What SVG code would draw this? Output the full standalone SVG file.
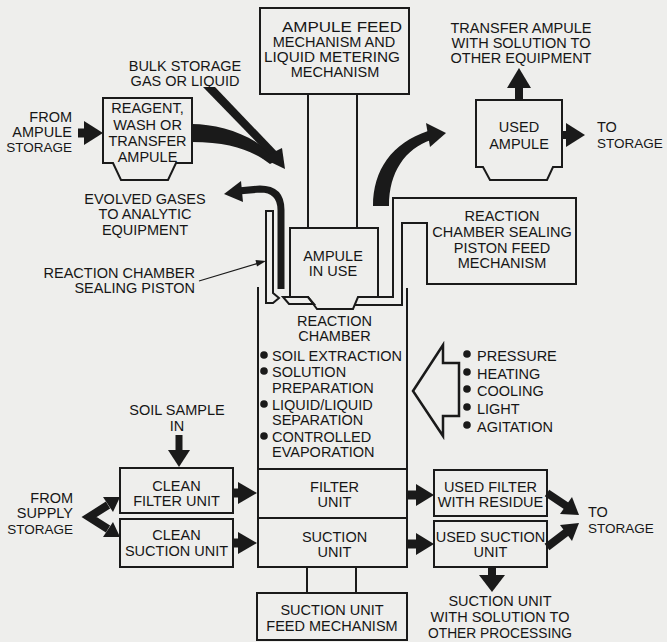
<svg xmlns="http://www.w3.org/2000/svg" width="667" height="642" viewBox="0 0 667 642">
<style>
.bx{fill:none;stroke:#1a1a1a;stroke-width:2}
.ln{fill:none;stroke:#1a1a1a;stroke-width:2}
.t{font-family:"Liberation Sans",Arial,sans-serif;font-size:14.5px;fill:#161616;text-anchor:middle}
.e{text-anchor:end}
.s{text-anchor:start}
.n{font-size:13.5px}
.k{fill:#1a1a1a;stroke:none}
.sh{fill:none;stroke:#1a1a1a;stroke-linecap:butt}
</style>
<rect width="667" height="642" fill="#eeeeec"/>

<g id="feed-mechanism">
<rect class="bx" x="260" y="8" width="149" height="86"/>
<text class="t" x="342" y="32" textLength="120" lengthAdjust="spacingAndGlyphs">AMPULE FEED</text>
<text class="t" x="334" y="47">MECHANISM AND</text>
<text class="t" x="332" y="62" textLength="136" lengthAdjust="spacingAndGlyphs">LIQUID METERING</text>
<text class="t" x="335" y="77">MECHANISM</text>
</g>

<g id="reagent-ampule">
<polygon class="bx" points="103,98 192,98 192,163 176,163 168,180 121,180 113,163 103,163"/>
<text class="t" x="147.5" y="113">REAGENT,</text>
<text class="t" x="147.5" y="130">WASH OR</text>
<text class="t" x="147.5" y="146">TRANSFER</text>
<text class="t" x="147.5" y="162">AMPULE</text>
</g>

<g id="used-ampule">
<polygon class="bx" points="476,100 562,100 562,167 553,167 547,180 490,180 483,167 476,167"/>
<text class="t" x="519" y="132">USED</text>
<text class="t" x="519" y="149">AMPULE</text>
</g>

<g id="ampule-in-use">
<polygon class="bx" points="290,228 378,228 378,297 358,297 353,309 317,309 308,297 290,297"/>
<text class="t" x="333" y="261">AMPULE</text>
<text class="t" x="333" y="276">IN USE</text>
</g>

<g id="sealing-piston">
<polygon class="bx" points="266,211 273,211 273,293 279,298 273,303 266,303"/>
<polygon class="bx" points="283,297 308,297 314,304 289,304"/>
</g>

<g id="piston-feed-mechanism">
<polyline class="ln" points="378,297 393,297 393,198 576,198 576,284 427,284 427,223 402,223 402,305 355,305"/>
<text class="t" x="502" y="221">REACTION</text>
<text class="t" x="502" y="237">CHAMBER SEALING</text>
<text class="t" x="502" y="253">PISTON FEED</text>
<text class="t" x="502" y="268">MECHANISM</text>
</g>

<g id="reaction-chamber">
<line class="ln" x1="258" y1="287" x2="258" y2="469"/>
<line class="ln" x1="407" y1="288" x2="407" y2="469"/>
<text class="t" x="334.5" y="326">REACTION</text>
<text class="t" x="334.5" y="341">CHAMBER</text>
<circle class="k" cx="264" cy="355" r="3.8"/>
<circle class="k" cx="264" cy="371" r="3.8"/>
<circle class="k" cx="264" cy="404" r="3.8"/>
<circle class="k" cx="264" cy="436" r="3.8"/>
<text class="t s" x="272" y="361">SOIL EXTRACTION</text>
<text class="t s" x="272" y="377">SOLUTION</text>
<text class="t s" x="272" y="393">PREPARATION</text>
<text class="t s" x="272" y="410">LIQUID/LIQUID</text>
<text class="t s" x="272" y="425">SEPARATION</text>
<text class="t s" x="272" y="442">CONTROLLED</text>
<text class="t s" x="272" y="457">EVAPORATION</text>
</g>

<g id="conditions">
<polygon points="413,391 443,345 443,363 459,363 459,416 443,416 443,436" fill="none" stroke="#1a1a1a" stroke-width="2.5" stroke-linejoin="miter"/>
<circle class="k" cx="467" cy="354" r="3.8"/>
<circle class="k" cx="467" cy="372" r="3.8"/>
<circle class="k" cx="467" cy="389" r="3.8"/>
<circle class="k" cx="467" cy="407" r="3.8"/>
<circle class="k" cx="467" cy="425" r="3.8"/>
<text class="t s" x="477" y="361">PRESSURE</text>
<text class="t s" x="477" y="378.5">HEATING</text>
<text class="t s" x="477" y="396">COOLING</text>
<text class="t s" x="477" y="413.5">LIGHT</text>
<text class="t s" x="477" y="431.5">AGITATION</text>
</g>

<g id="filter-unit">
<rect class="bx" x="258" y="469" width="149" height="49"/>
<text class="t" x="334.5" y="492">FILTER</text>
<text class="t" x="334.5" y="507">UNIT</text>
</g>

<g id="suction-unit">
<rect class="bx" x="258" y="518" width="149" height="49"/>
<text class="t" x="334.5" y="542">SUCTION</text>
<text class="t" x="334.5" y="557">UNIT</text>
</g>

<g id="suction-feed-mechanism">
<rect class="bx" x="257" y="593" width="150" height="47"/>
<text class="t" x="332" y="615">SUCTION UNIT</text>
<text class="t" x="332" y="631">FEED MECHANISM</text>
</g>

<g id="clean-filter">
<rect class="bx" x="120" y="468" width="113" height="45"/>
<text class="t" x="176.5" y="491">CLEAN</text>
<text class="t" x="176.5" y="506">FILTER UNIT</text>
</g>

<g id="clean-suction">
<rect class="bx" x="120" y="519" width="113" height="48"/>
<text class="t" x="176.5" y="540">CLEAN</text>
<text class="t" x="176.5" y="556">SUCTION UNIT</text>
</g>

<g id="used-filter">
<rect class="bx" x="434" y="470" width="113" height="46"/>
<text class="t" x="490.5" y="492">USED FILTER</text>
<text class="t" x="490.5" y="507">WITH RESIDUE</text>
</g>

<g id="used-suction">
<rect class="bx" x="434" y="521" width="113" height="46"/>
<text class="t" x="490.5" y="542">USED SUCTION</text>
<text class="t" x="490.5" y="557">UNIT</text>
</g>

<g id="labels">
<text class="t e" x="72" y="122">FROM</text>
<text class="t e" x="72" y="137">AMPULE</text>
<text class="t e n" x="72" y="152">STORAGE</text>
<text class="t" x="185" y="71">BULK STORAGE</text>
<text class="t" x="185" y="86">GAS OR LIQUID</text>
<text class="t" x="145" y="204">EVOLVED GASES</text>
<text class="t" x="145" y="219">TO ANALYTIC</text>
<text class="t" x="145" y="235">EQUIPMENT</text>
<text class="t e" x="195" y="278">REACTION CHAMBER</text>
<text class="t e" x="195" y="293">SEALING PISTON</text>
<text class="t" x="177" y="415">SOIL SAMPLE</text>
<text class="t" x="177" y="431">IN</text>
<text class="t e" x="73" y="503">FROM</text>
<text class="t e" x="73" y="518">SUPPLY</text>
<text class="t e n" x="73" y="534">STORAGE</text>
<text class="t" x="521" y="33">TRANSFER AMPULE</text>
<text class="t" x="521" y="48">WITH SOLUTION TO</text>
<text class="t" x="521" y="63">OTHER EQUIPMENT</text>
<text class="t s" x="597" y="132">TO</text>
<text class="t s n" x="597" y="148">STORAGE</text>
<text class="t s" x="588" y="517">TO</text>
<text class="t s n" x="588" y="533">STORAGE</text>
<text class="t" x="500" y="606">SUCTION UNIT</text>
<text class="t" x="500" y="622">WITH SOLUTION TO</text>
<text class="t" x="500" y="638" textLength="144" lengthAdjust="spacingAndGlyphs">OTHER PROCESSING</text>
</g>

<g id="connectors">
<line class="ln" x1="308" y1="94" x2="308" y2="228"/>
<line class="ln" x1="357" y1="94" x2="357" y2="228"/>
<line class="ln" x1="307" y1="567" x2="307" y2="593"/>
<line class="ln" x1="356" y1="567" x2="356" y2="593"/>
<line class="sh" x1="78" y1="133" x2="88" y2="133" stroke-width="9"/>
<polygon class="k" points="84,121 103,133 84,145"/>
<path class="k" d="M192,124 C215,124 245,132 264,148 L278,160 L270,164 C255,152 232,142 192,142 Z"/>
<polygon class="k" points="203,87 215,87 280,155 272,158"/>
<polygon class="k" points="262,158 285,169 282,148"/>
<path class="sh" d="M281,289 L281,210 Q281,189 260,189 L238,191" stroke-width="7"/>
<polygon class="k" points="224,194 241,181 243,202"/>
<path class="k" d="M373,206 C373,170 392,143 428,131 L431,140 C405,149 389,172 389,206 Z"/>
<polygon class="k" points="426,123 446,133 430,147"/>
<line class="sh" x1="519" y1="100" x2="519" y2="86" stroke-width="8"/>
<polygon class="k" points="507,88 519,68 531,88"/>
<line class="sh" x1="562" y1="135" x2="569" y2="135" stroke-width="8"/>
<polygon class="k" points="566,123 585,135 566,147"/>
<line x1="199" y1="281" x2="259" y2="263" stroke="#1a1a1a" stroke-width="1.3"/>
<polygon class="k" points="266,261 257,266.5 255.5,260"/>
<line class="sh" x1="179" y1="435" x2="179" y2="452" stroke-width="7"/>
<polygon class="k" points="168,450 179,467 190,450"/>
<polyline class="sh" points="108,505 89,517 108,529" stroke-width="8" stroke-linejoin="miter"/>
<polygon class="k" points="120,497 113,512 103,497"/>
<polygon class="k" points="120,537 103,537 113,522"/>
<line class="sh" x1="233" y1="493" x2="241" y2="493" stroke-width="9"/>
<polygon class="k" points="238,482 257,493 238,504"/>
<line class="sh" x1="233" y1="543" x2="241" y2="543" stroke-width="9"/>
<polygon class="k" points="238,532 257,543 238,554"/>
<line class="sh" x1="407" y1="495" x2="419" y2="495" stroke-width="9"/>
<polygon class="k" points="416,484 434,495 416,506"/>
<line class="sh" x1="407" y1="544" x2="419" y2="544" stroke-width="9"/>
<polygon class="k" points="416,533 434,544 416,555"/>
<line class="sh" x1="547" y1="493" x2="568" y2="507" stroke-width="8"/>
<polygon class="k" points="579,515 560,514 572,497"/>
<line class="sh" x1="547" y1="547" x2="568" y2="531" stroke-width="8"/>
<polygon class="k" points="579,523 572,541 560,525"/>
<line class="sh" x1="492" y1="567" x2="492" y2="577" stroke-width="8"/>
<polygon class="k" points="479,575 492,592 505,575"/>
</g>
</svg>
